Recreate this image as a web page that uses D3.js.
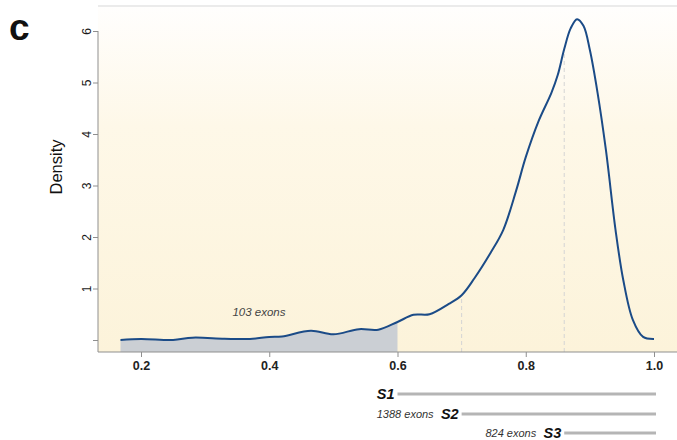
<!DOCTYPE html>
<html>
<head>
<meta charset="utf-8">
<script src="https://cdn.jsdelivr.net/npm/d3@7"></script>
<style>
  html, body { margin: 0; padding: 0; background: #ffffff; }
  svg { display: block; font-family: "Liberation Sans", Arial, Helvetica, sans-serif; }
</style>
</head>
<body>
<svg id="chart" width="677" height="440"></svg>
<script>
// Density of exon inclusion scores
const scoreX = [0.168, 0.2, 0.25, 0.28, 0.33, 0.37, 0.40, 0.42, 0.465, 0.50, 0.54, 0.57, 0.60,
                0.625, 0.65, 0.68, 0.70, 0.72, 0.745, 0.765, 0.785, 0.80, 0.82, 0.84, 0.85,
                0.86, 0.87, 0.88, 0.89, 0.90, 0.912, 0.925, 0.94, 0.952, 0.967, 0.983, 1.0];
const density = [0.0, 0.02, 0.0, 0.045, 0.025, 0.02, 0.06, 0.07, 0.18, 0.11, 0.21, 0.2, 0.35,
                 0.49, 0.5, 0.7, 0.87, 1.2, 1.69, 2.14, 2.9, 3.55, 4.25, 4.8, 5.15,
                 5.65, 6.05, 6.23, 6.1, 5.63, 4.8, 3.69, 2.14, 1.17, 0.39, 0.06, 0.02];

// Set thresholds and their exon counts
const setNames = ["S1", "S2", "S3"];
const setStart = [0.6, 0.7, 0.86];
const setCounts = ["", "1388 exons", "824 exons"];
const markerDensity = [null, 0.87, 5.65];   // curve height at S2/S3 thresholds
const lowLabel = "103 exons";

const xTicks = [0.2, 0.4, 0.6, 0.8, 1.0];
const yTicks = [0, 1, 2, 3, 4, 5, 6];

const svg = d3.select("#chart");
const panel = { left: 98, right: 677, top: 6, bottom: 352 };

const x = d3.scaleLinear().domain([0.2, 1.0]).range([141, 654]);
const y = d3.scaleLinear().domain([0, 6]).range([340, 31]);

const pts = scoreX.map((v, i) => ({ x: v, d: density[i] }));

// Panel background gradient
const defs = svg.append("defs");
const grad = defs.append("linearGradient").attr("id", "bg")
  .attr("x1", 0).attr("y1", 0).attr("x2", 0).attr("y2", 1);
grad.append("stop").attr("offset", "0%").attr("stop-color", "#fffefd");
grad.append("stop").attr("offset", "35%").attr("stop-color", "#fef8e8");
grad.append("stop").attr("offset", "100%").attr("stop-color", "#fcf3da");

svg.append("rect")
  .attr("x", panel.left).attr("y", panel.top)
  .attr("width", panel.right - panel.left).attr("height", panel.bottom - panel.top)
  .attr("fill", "url(#bg)");
svg.append("line")
  .attr("x1", panel.left).attr("x2", panel.right)
  .attr("y1", panel.top).attr("y2", panel.top)
  .attr("stroke", "#e4e4e4").attr("stroke-width", 1.5);

// Shaded low-score region
const lowPts = pts.filter(p => p.x <= setStart[0]);
svg.append("path")
  .datum(lowPts)
  .attr("fill", "#cbcfd4")
  .attr("d", d3.area()
    .x(p => x(p.x)).y0(panel.bottom).y1(p => y(p.d))
    .curve(d3.curveCatmullRom.alpha(0.5)));

// Threshold markers
setStart.forEach((s, i) => {
  if (markerDensity[i] === null) return;
  svg.append("line")
    .attr("x1", x(s)).attr("x2", x(s))
    .attr("y1", panel.bottom).attr("y2", y(markerDensity[i]))
    .attr("stroke", "#d4d4d4").attr("stroke-width", 1)
    .attr("stroke-dasharray", "4,3");
});

// Density curve
svg.append("path")
  .datum(pts)
  .attr("fill", "none")
  .attr("stroke", "#1b4b87")
  .attr("stroke-width", 2)
  .attr("d", d3.line()
    .x(p => x(p.x)).y(p => y(p.d))
    .curve(d3.curveCatmullRom.alpha(0.5)));

// Y axis
const yAxis = svg.append("g")
  .attr("transform", `translate(${panel.left},0)`)
  .call(d3.axisLeft(y).tickValues(yTicks).tickFormat(d => d === 0 ? "" : d).tickSize(5));
yAxis.select(".domain").remove();
yAxis.append("line")
  .attr("x1", 0).attr("x2", 0).attr("y1", y(6)).attr("y2", panel.bottom)
  .attr("stroke", "#8f8f8f");
yAxis.selectAll(".tick line").attr("stroke", "#8f8f8f");
yAxis.selectAll(".tick text")
  .attr("x", 0).attr("y", 0).attr("dx", 0).attr("dy", 0)
  .attr("transform", "translate(-11,0) rotate(-90)")
  .attr("text-anchor", "middle")
  .attr("dominant-baseline", "central")
  .attr("font-size", 12).attr("fill", "#1a1a1a");

// X axis
const xAxis = svg.append("g")
  .attr("transform", `translate(0,${panel.bottom})`)
  .call(d3.axisBottom(x).tickValues(xTicks).tickFormat(d3.format(".1f")).tickSize(5).tickPadding(4));
xAxis.select(".domain").remove();
xAxis.append("line")
  .attr("x1", panel.left).attr("x2", panel.right).attr("y1", 0).attr("y2", 0)
  .attr("stroke", "#8f8f8f");
xAxis.selectAll(".tick line").attr("stroke", "#8f8f8f");
xAxis.selectAll(".tick text")
  .attr("font-size", 12.5).attr("font-weight", "bold").attr("fill", "#222");

// Axis title and panel letter
svg.append("text")
  .attr("transform", "translate(62,167) rotate(-90)")
  .attr("text-anchor", "middle")
  .attr("font-size", 16.5).attr("fill", "#111")
  .text("Density");
svg.append("text")
  .attr("x", 9).attr("y", 40)
  .attr("font-size", 37).attr("font-weight", "bold").attr("fill", "#111")
  .text("c");

// Count of exons below the first threshold
svg.append("text")
  .attr("x", x(0.384)).attr("y", 316)
  .attr("text-anchor", "middle")
  .attr("font-size", 11.5).attr("font-style", "italic").attr("fill", "#444")
  .text(lowLabel);

// Set ranges
const rowY = [394, 414, 433];
setNames.forEach((name, i) => {
  const x0 = x(setStart[i]);
  svg.append("line")
    .attr("x1", x0).attr("x2", x(1.0) + 2)
    .attr("y1", rowY[i]).attr("y2", rowY[i])
    .attr("stroke", "#b5b5b5").attr("stroke-width", 3);
  svg.append("text")
    .attr("x", x0 - 3).attr("y", rowY[i] + 5)
    .attr("text-anchor", "end")
    .attr("font-size", 14.5).attr("font-weight", "bold").attr("font-style", "italic")
    .attr("fill", "#111")
    .text(name);
  if (setCounts[i]) {
    svg.append("text")
      .attr("x", x0 - 28).attr("y", rowY[i] + 4)
      .attr("text-anchor", "end")
      .attr("font-size", 11).attr("font-style", "italic").attr("fill", "#333")
      .text(setCounts[i]);
  }
});
</script>
</body>
</html>
